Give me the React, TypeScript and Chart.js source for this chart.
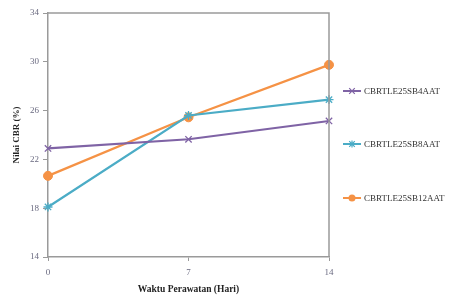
import React, { useEffect, useRef } from "react";
import { Chart, registerables } from "chart.js";

Chart.register(...registerables);

const days = [0, 7, 14];
const sb4 = [22.9, 23.65, 25.15];
const sb8 = [18.1, 25.6, 26.9];
const sb12 = [20.65, 25.45, 29.75];
const seriesNames = ["CBRTLE25SB4AAT", "CBRTLE25SB8AAT", "CBRTLE25SB12AAT"];
const seriesColors = ["#7F63A5", "#4BACC6", "#F59245"];
const seriesMarkers = ["crossRot", "star", "circle"];
const yTicks = [14, 18, 22, 26, 30, 34];
const xTicks = [0, 7, 14];

function drawMarker(ctx: CanvasRenderingContext2D, style: string, x: number, y: number, r: number, color: string) {
  ctx.save();
  ctx.strokeStyle = color;
  ctx.fillStyle = color;
  ctx.lineWidth = 1.2;
  ctx.beginPath();
  if (style === "circle") {
    ctx.arc(x, y, r, 0, Math.PI * 2);
    ctx.fill();
  } else {
    const d = r * 0.8;
    ctx.moveTo(x - d, y - d); ctx.lineTo(x + d, y + d);
    ctx.moveTo(x - d, y + d); ctx.lineTo(x + d, y - d);
    if (style === "star") {
      ctx.moveTo(x, y - r); ctx.lineTo(x, y + r);
    }
    ctx.stroke();
  }
  ctx.restore();
}

const framePlugin = {
  id: "frame",
  afterDraw(chart: any) {
    const { ctx, chartArea } = chart;
    ctx.save();
    ctx.strokeStyle = "#9a9a9a";
    ctx.lineWidth = 1.5;
    ctx.beginPath();
    ctx.moveTo(chartArea.left, chartArea.top);
    ctx.lineTo(chartArea.right, chartArea.top);
    ctx.lineTo(chartArea.right, chartArea.bottom);
    ctx.stroke();
    ctx.restore();
    // legend
    const ys = [91, 144, 198];
    ctx.save();
    ctx.font = "9px 'Liberation Serif', serif";
    ctx.textBaseline = "middle";
    seriesNames.forEach((name, i) => {
      const y = ys[i];
      ctx.strokeStyle = seriesColors[i];
      ctx.lineWidth = 2;
      ctx.beginPath();
      ctx.moveTo(343, y);
      ctx.lineTo(361, y);
      ctx.stroke();
      drawMarker(ctx, seriesMarkers[i], 352, y, 3.5, seriesColors[i]);
      ctx.fillStyle = "#333333";
      ctx.fillText(name, 364, y + 0.5);
    });
    ctx.restore();
  },
};

export default function App() {
  const ref = useRef<HTMLCanvasElement>(null);
  useEffect(() => {
    if (!ref.current) return;
    const mk = (i: number, vals: number[]) => ({
      label: seriesNames[i],
      data: days.map((d, k) => ({ x: d, y: vals[k] })),
      borderColor: seriesColors[i],
      backgroundColor: seriesColors[i],
      borderWidth: 2.2,
      pointStyle: seriesMarkers[i] as any,
      pointRadius: 4.5,
      pointBorderWidth: i === 2 ? 1 : 1.3,
      pointBorderColor: seriesColors[i],
      pointBackgroundColor: seriesColors[i],
      tension: 0,
      clip: false as any,
    });
    const chart = new Chart(ref.current, {
      type: "line",
      data: {
        datasets: [mk(0, sb4), mk(1, sb8), mk(2, sb12)],
      },
      options: {
        animation: false,
        responsive: false,
        maintainAspectRatio: false,
        layout: { padding: { left: 0, top: 13, right: 120, bottom: 0 } },
        plugins: { legend: { display: false }, tooltip: { enabled: false } },
        scales: {
          x: {
            type: "linear",
            min: 0,
            max: 14,
            afterBuildTicks: (s: any) => { s.ticks = xTicks.map((v) => ({ value: v })); },
            afterFit: (s: any) => { s.height = 42; },
            border: { display: true, color: "#9a9a9a", width: 1.5 },
            grid: { drawOnChartArea: false, drawTicks: true, tickLength: 4, color: "#9a9a9a" },
            ticks: { color: "#6a6a80", font: { family: "'Liberation Serif', serif", size: 9 }, padding: 6 },
            title: {
              display: true,
              text: "Waktu Perawatan (Hari)",
              color: "#222",
              font: { family: "'Liberation Serif', serif", size: 9.5, weight: "bold" },
              padding: { top: 4, bottom: 4 },
            },
          },
          y: {
            type: "linear",
            min: 14,
            max: 34,
            afterBuildTicks: (s: any) => { s.ticks = yTicks.map((v) => ({ value: v })); },
            afterFit: (s: any) => { s.width = 48; },
            border: { display: true, color: "#9a9a9a", width: 1.5 },
            grid: { drawOnChartArea: false, drawTicks: true, tickLength: 5, color: "#9a9a9a" },
            ticks: { color: "#6a6a80", font: { family: "'Liberation Serif', serif", size: 9 }, padding: 4 },
            title: {
              display: true,
              text: "Nilai CBR (%)",
              color: "#222",
              font: { family: "'Liberation Serif', serif", size: 9, weight: "bold" },
              padding: { top: 11, bottom: 0 },
            },
          },
        },
      },
      plugins: [framePlugin],
    });
    return () => chart.destroy();
  }, []);
  return (
    <div style={{ position: "fixed", left: 0, top: 0, width: 449, height: 299, background: "#fff" }}>
      <canvas ref={ref} width={449} height={299} style={{ width: 449, height: 299 }} />
    </div>
  );
}
